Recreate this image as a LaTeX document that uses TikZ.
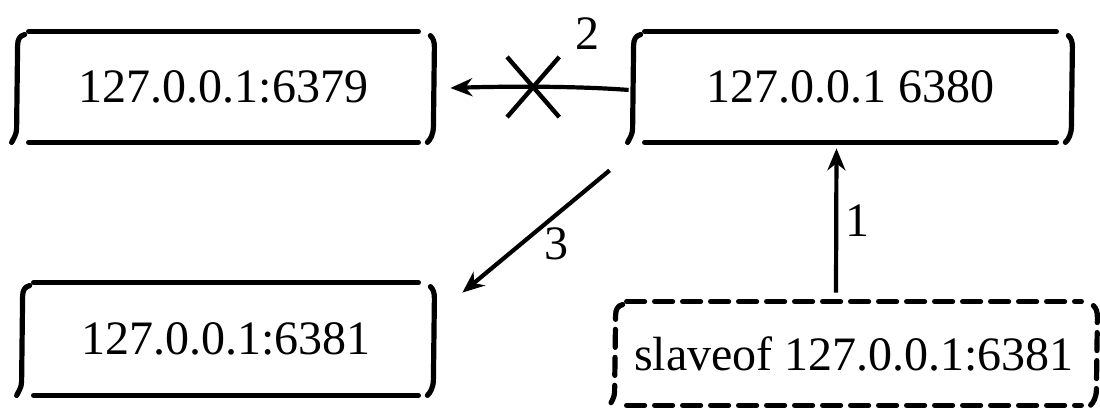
\documentclass[tikz,border=0pt]{standalone}
\usepackage{fontspec}
\setmainfont{Liberation Serif}
\usetikzlibrary{arrows.meta}

% 手绘风格的方框：上下两条粗线，左右两个弯括号
\newcommand\sketchbox[2][]{%
  \draw[rim,#1] ([xshift=1pt]#2.north west) -- ([xshift=-1pt]#2.north east);
  \draw[rim,#1] ([xshift=1pt]#2.south west) -- ([xshift=-1pt]#2.south east);
  \draw[rim,#1] ([shift={(-1pt,-1.5pt)}]#2.north west)
      .. controls +(-2.5pt,-0.5pt) and +(0,3pt) .. ([shift={(-4.5pt,-7pt)}]#2.north west)
      -- ([shift={(-5pt,7pt)}]#2.south west)
      .. controls +(0,-3pt) and +(1pt,2pt) .. ([shift={(-7.5pt,0pt)}]#2.south west);
  \draw[rim,#1] ([shift={(5pt,-2pt)}]#2.north east)
      .. controls +(1.5pt,-1.5pt) and +(0,3pt) .. ([shift={(7pt,-8pt)}]#2.north east)
      -- ([shift={(6.5pt,8pt)}]#2.south east)
      .. controls +(0,-4pt) and +(1.5pt,1.5pt) .. ([shift={(3.5pt,0pt)}]#2.south east);
}

\begin{document}
\begin{tikzpicture}[
    x=0.5pt, y=-0.5pt,
    >={Stealth[length=11pt,width=9pt]},
    box/.style={minimum height=55pt, inner sep=0pt, font=\fontsize{24}{28}\selectfont},
    rim/.style={line width=2.6pt, line cap=round},
    link/.style={->, line width=2.1pt},
    num/.style={font=\fontsize{24}{28}\selectfont},
    blocked/.style={minimum width=24pt, minimum height=28pt, inner sep=0pt}
  ]
  \useasboundingbox (0,0) rectangle (1100,414);

  % 服务器
  \node[box, minimum width=196.5pt] (m6379) at (223.5,87) {127.0.0.1:6379};
  \node[box, minimum width=207.5pt] (m6380) at (850.5,87) {127.0.0.1 6380};
  \node[box, minimum width=194pt, minimum height=56pt] (m6381) at (226,339) {127.0.0.1:6381};
  \node[box, minimum width=229pt, minimum height=51.5pt] (cmd) at (854,353.5) {slaveof 127.0.0.1:6381};

  \sketchbox{m6379}
  \sketchbox{m6380}
  \sketchbox{m6381}
  \sketchbox[dash pattern=on 9pt off 5pt]{cmd}

  % 步骤 1, 2, 3
  \draw[link] ([shift={(-9pt,4.5pt)}]cmd.north) -- node[num, right] {1} ([shift={(-7pt,-3pt)}]m6380.south);
  \draw[link, shorten <=7pt, shorten >=15pt] ([yshift=-2pt]m6380.west)
      .. controls +(-40pt,3pt) and +(30pt,1pt) .. node[pos=.46, blocked, label={[num, label distance=5pt]40:2}] (cut) {}
      ([yshift=-1pt]m6379.east);
  \draw[line width=2.2pt] (cut.north west) -- (cut.south east);
  \draw[line width=2.2pt] (cut.north east) -- (cut.south west);
  \draw[link] ([shift={(-16.5pt,-14pt)}]m6380.south west) -- node[num, right, yshift=-6pt] {3} ([shift={(21pt,-5pt)}]m6381.north east);
\end{tikzpicture}
\end{document}
